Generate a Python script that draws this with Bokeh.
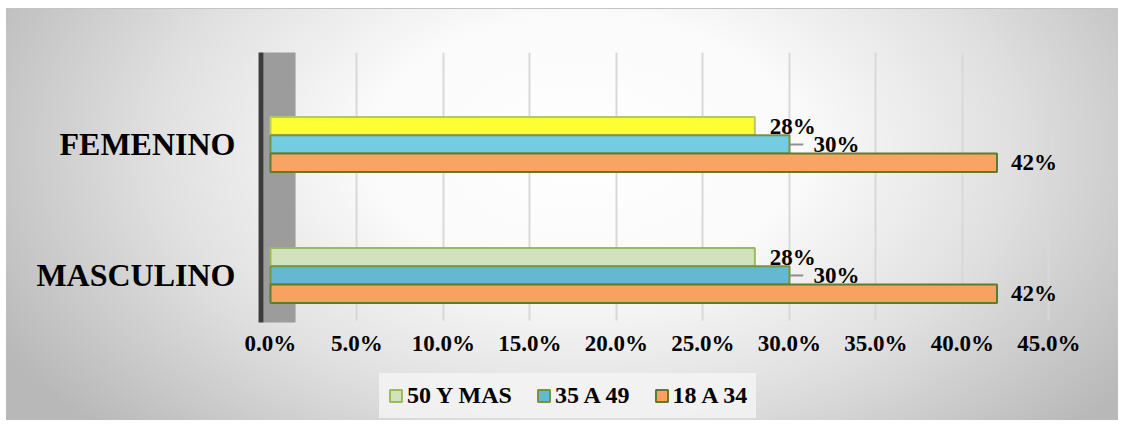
from bokeh.plotting import figure
from bokeh.models import (Range1d, FixedTicker, NumeralTickFormatter, ColumnDataSource,
                          Legend, LegendItem, BoxAnnotation)
from bokeh.core.properties import value
from bokeh.embed import file_html
from bokeh.resources import INLINE

# ---- data ----
categories = ["FEMENINO", "MASCULINO"]
series_names = ["50 Y MAS", "35 A 49", "18 A 34"]
vals_50 = [0.28, 0.28]
vals_35 = [0.30, 0.30]
vals_18 = [0.42, 0.42]
labels_50 = ["28%", "28%"]
labels_35 = ["30%", "30%"]
labels_18 = ["42%", "42%"]
x_ticks = [0.0, 0.05, 0.10, 0.15, 0.20, 0.25, 0.30, 0.35, 0.40, 0.45]

# ---- styles ----
FONT_NAME = "Liberation Serif"
FONT = value(FONT_NAME)
fill_50 = ["#FFFF33", "#D2E2BD"]
line_50 = ["#B5C95E", "#9BBB59"]
fill_35 = ["#74CCE2", "#62B9D1"]
line_35 = ["#77953F", "#77953F"]
fill_18 = ["#F8A462", "#F7A35F"]
line_18 = ["#5F7B31", "#5F7B31"]

n = len(categories)
ypos = [n - 1 - i for i in range(n)]  # FEMENINO on top
bar_h = 0.14
offsets = [bar_h, 0.0, -bar_h]
axis_y = -0.344          # where the value axis sits (bottom of the bar area)
wall_top = 1.78
wall_bottom = axis_y - 0.015

p = figure(width=1118, height=421, output_backend="svg", toolbar_location=None,
           x_range=Range1d(-0.0156, 0.47), y_range=Range1d(-1.115, 1.702),
           min_border_left=243, min_border_right=35, min_border_top=52,
           min_border_bottom=0)
p.background_fill_alpha = 0
p.border_fill_alpha = 0
p.outline_line_color = None
p.styles = {
    "background": ("linear-gradient(#c4c4c4, #c4c4c4) 6px 8px / 1112px 1px no-repeat, "
                   "radial-gradient(ellipse 60% 100% at 52% 34%, #ffffff 0%, #fafafa 33%, "
                   "#e0e0e0 64%, #b8b8b8 100%) 6px 8px / 1112px 412px no-repeat, #ffffff"),
}

# back wall decoration (grey side wall + dark edge)
p.add_layout(BoxAnnotation(left=-0.004, right=0.0145, top=wall_top - 0.02, bottom=wall_bottom,
                           fill_color="#9c9c9c", fill_alpha=1.0, line_color=None,
                           level="underlay"))
p.add_layout(BoxAnnotation(left=-0.0069, right=-0.004, top=wall_top, bottom=wall_bottom,
                           fill_color="#3c3c3c", fill_alpha=1.0, line_color=None,
                           level="underlay"))

# grid lines limited to the bar area
p.ygrid.grid_line_color = None
p.xgrid.ticker = FixedTicker(ticks=x_ticks[1:])
p.xgrid.grid_line_color = "#d8d8d8"
p.xgrid.grid_line_width = 2
try:
    p.xgrid.cross_bounds = (axis_y, 1.702)
except Exception:
    p.xgrid.grid_line_color = None
    gsrc = ColumnDataSource(dict(x=x_ticks[1:]))
    p.segment(x0="x", x1="x", y0=axis_y, y1=1.702, source=gsrc,
              line_color="#d8d8d8", line_width=2, level="underlay")

renderers = []
for vals, labs, fills, lines, off, lx in [
        (vals_50, labels_50, fill_50, line_50, offsets[0], 15),
        (vals_35, labels_35, fill_35, line_35, offsets[1], 24),
        (vals_18, labels_18, fill_18, line_18, offsets[2], 14)]:
    ys = [yp + off for yp in ypos]
    src = ColumnDataSource(dict(y=ys, right=vals, fill=fills, line=lines, lab=labs))
    r = p.hbar(y="y", left=0, right="right", height=bar_h, source=src,
               fill_color="fill", line_color="line", line_width=2)
    renderers.append(r)
    if lx > 20:
        src2 = ColumnDataSource(dict(x0=vals, x1=[v + 0.008 for v in vals], y=ys))
        p.segment(x0="x0", x1="x1", y0="y", y1="y", source=src2,
                  line_color="#8f8f8f", line_width=2)
    p.text(x="right", y="y", text="lab", source=src, x_offset=lx,
           text_font=FONT, text_font_style="bold", text_font_size="23px",
           text_color="#000000", text_align="left", text_baseline="middle")

# axes
p.xaxis.fixed_location = axis_y
p.xaxis.ticker = FixedTicker(ticks=x_ticks)
p.xaxis.formatter = NumeralTickFormatter(format="0.0%")
p.xaxis.axis_line_color = None
p.xaxis.major_tick_line_color = None
p.xaxis.minor_tick_line_color = None
p.xaxis.major_label_standoff = 4
p.xaxis.major_label_text_font = FONT_NAME
p.xaxis.major_label_text_font_style = "bold"
p.xaxis.major_label_text_font_size = "23px"
p.xaxis.major_label_text_color = "#000000"

p.yaxis.ticker = FixedTicker(ticks=ypos)
p.yaxis.major_label_overrides = {yp: c for yp, c in zip(ypos, categories)}
p.yaxis.axis_line_color = None
p.yaxis.major_tick_line_color = None
p.yaxis.minor_tick_line_color = None
p.yaxis.major_label_standoff = 2
p.yaxis.major_label_text_font = FONT_NAME
p.yaxis.major_label_text_font_style = "bold"
p.yaxis.major_label_text_font_size = "32px"
p.yaxis.major_label_text_color = "#000000"

legend = Legend(items=[
    LegendItem(label=series_names[0], renderers=[renderers[0]], index=1),
    LegendItem(label=series_names[1], renderers=[renderers[1]], index=1),
    LegendItem(label=series_names[2], renderers=[renderers[2]], index=1),
], orientation="horizontal", location=(136, 3))
legend.label_text_font = FONT_NAME
legend.label_text_font_style = "bold"
legend.label_text_font_size = "24px"
legend.label_text_color = "#000000"
legend.glyph_width = 15
legend.glyph_height = 15
legend.label_standoff = 4
legend.spacing = 24
legend.padding = 9
legend.margin = 0
legend.label_height = 23
legend.background_fill_color = "#f5f5f5"
legend.background_fill_alpha = 0.8
legend.border_line_alpha = 0
p.add_layout(legend)

open("out.html", "w").write(file_html(p, INLINE))
